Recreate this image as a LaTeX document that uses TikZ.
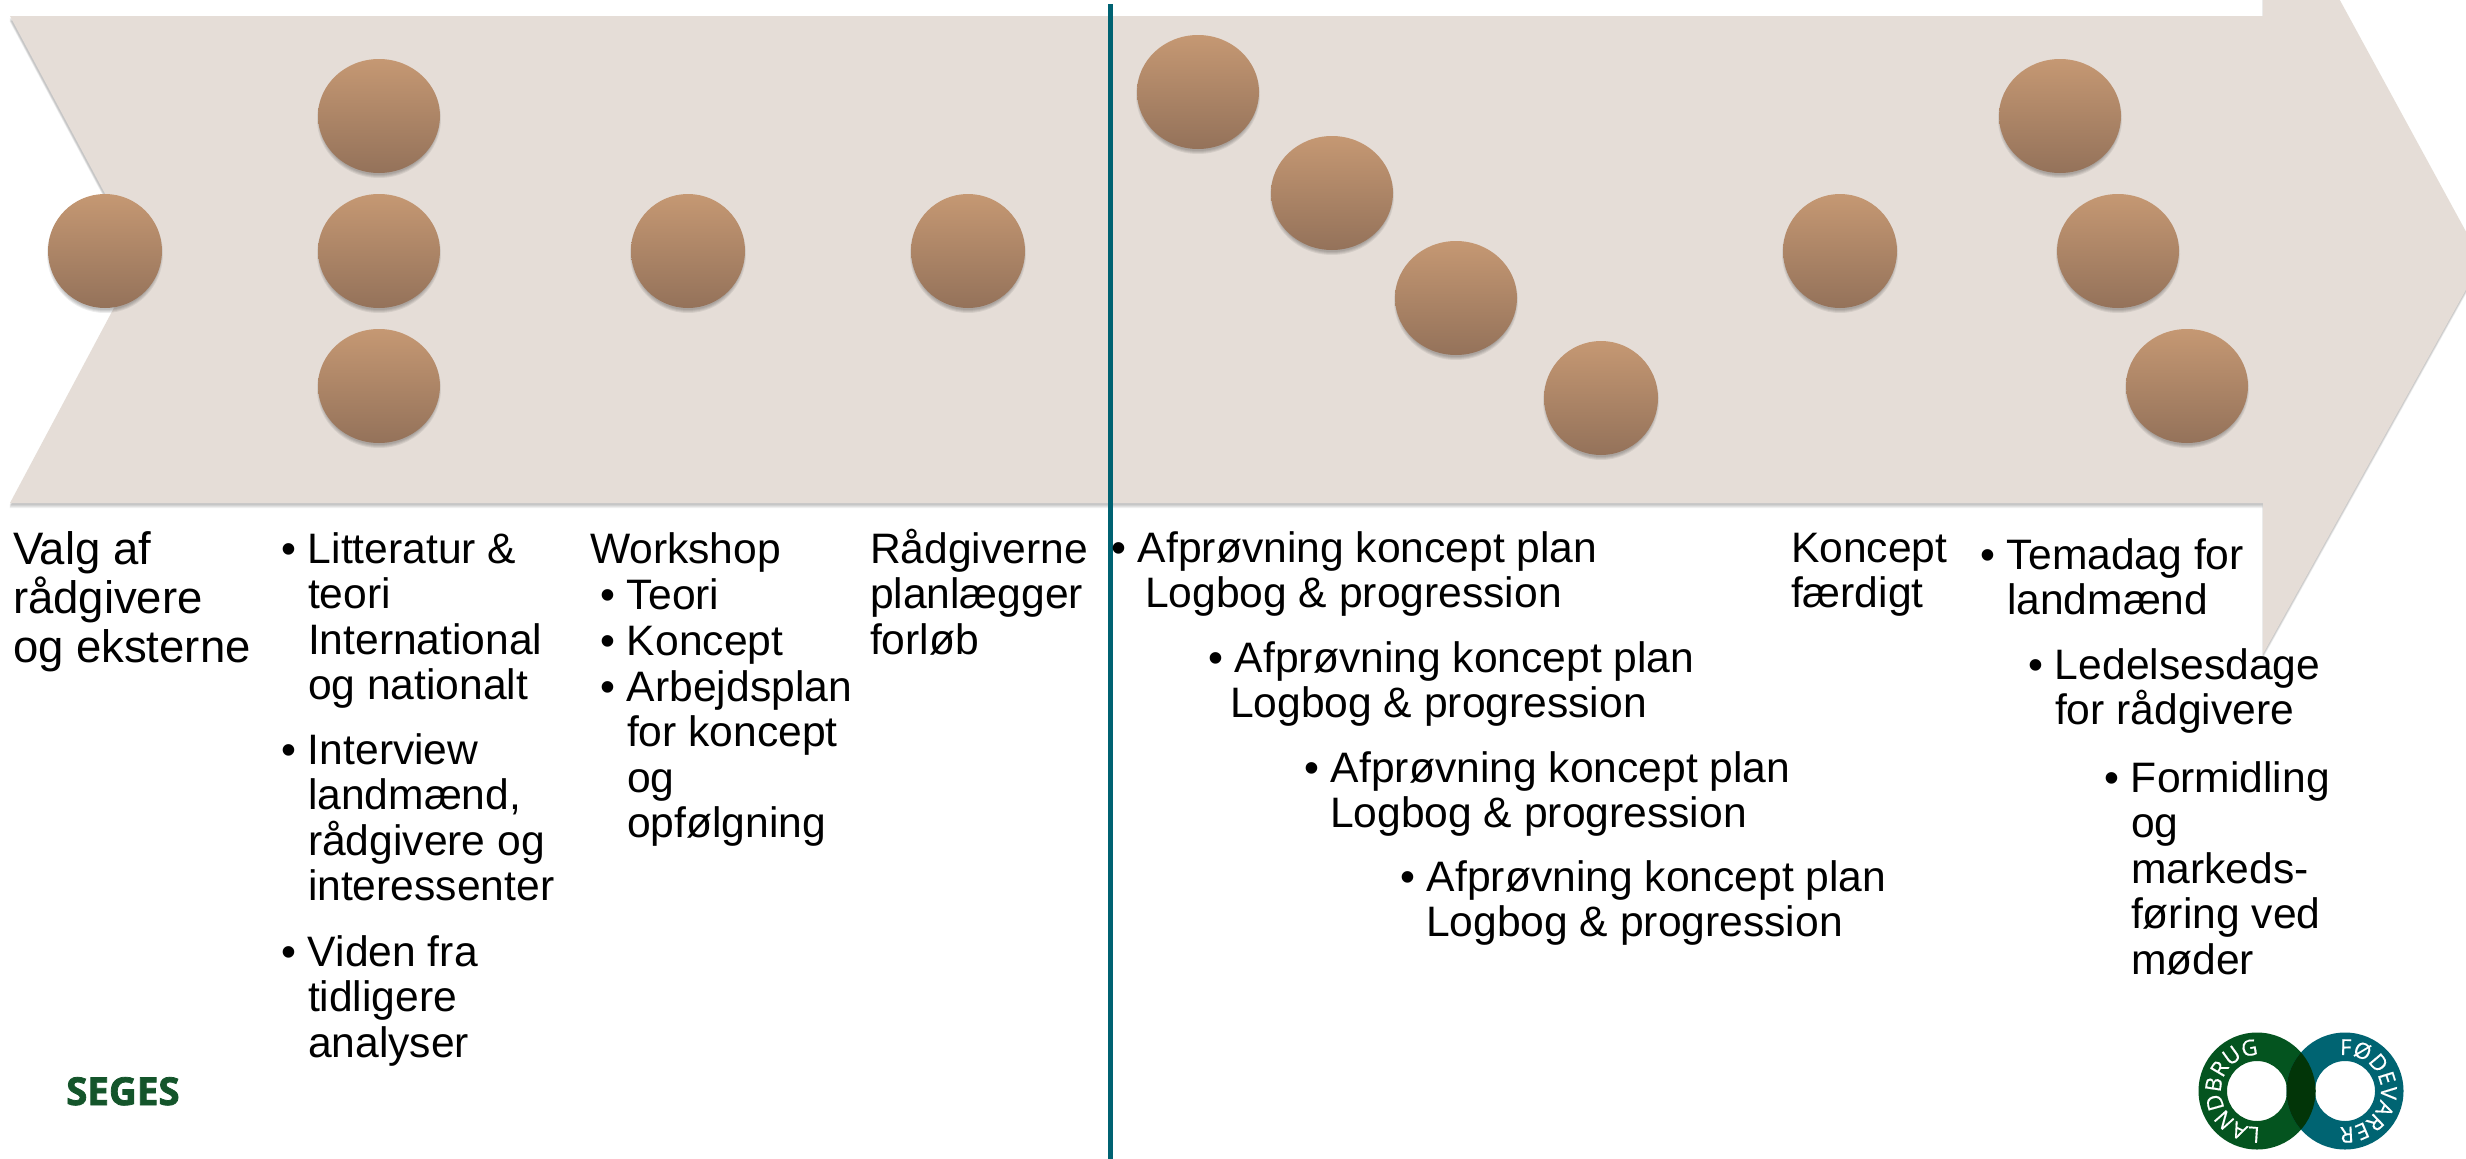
\documentclass[tikz,border=0pt]{standalone}
\usepackage{fontspec}
\setmainfont{Liberation Sans}
\newfontfamily\logofont[FakeBold=0.4]{Open Sans}
\newfontfamily\segesfont[BoldFeatures={FakeBold=2}]{Open Sans}
\usetikzlibrary{shapes.geometric,decorations.text}
\definecolor{arrowfill}{HTML}{E5DDD7}
\definecolor{ballt}{HTML}{C59873}
\definecolor{ballb}{HTML}{94725A}
\definecolor{tealline}{HTML}{006272}
\definecolor{lgreen}{HTML}{04541F}
\definecolor{lteal}{HTML}{006472}
\definecolor{ldark}{HTML}{023508}
\definecolor{segesgreen}{HTML}{14552B}
\tikzset{
  txt/.style={anchor=north west,inner sep=0pt,outer sep=0pt,align=left,text=black,font=\fontsize{42.6}{45.6}\selectfont},
  txtwide/.style={txt,font=\fontsize{45.5}{49}\selectfont},
  ball/.style={ellipse,inner sep=0pt,outer sep=0pt,top color=ballt,bottom color=ballb,draw=none},
  ringtxt/.style 2 args={decorate,decoration={text along path,text align={left},text={|\logofont\fontsize{22}{22}\selectfont\addfontfeature{LetterSpace=#1}\color{white}|#2}}}
}
\newcommand{\st}{\rule{0pt}{36pt}}
\newcommand{\bl}{\st\llap{•\hspace{12pt}}}
\newcommand{\ballat}[4]{%
  \foreach \k in {-1,0,1,2}{\fill[black,opacity=0.07] (#2,#3+3) ellipse [x radius=#4+\k-1,y radius=57+\k];}
  \node[ball,minimum width=2*#4 pt,minimum height=114pt] (#1) at (#2,#3) {};}
\newcommand{\arrowpath}{(10,16)--(2263,16)--(2263,-141)--(2482,261)--(2263,654)--(2263,503)--(10,503)--(140,259)--cycle}
\begin{document}
\begin{tikzpicture}[x=1pt,y=-1pt]
\useasboundingbox (0,0) rectangle (2466,1159);
\clip (0,0) rectangle (2466,1159);
\fill[white] (0,0) rectangle (2466,1159);
% arrow with soft edge
\foreach \k in {1,2,3,4}{\fill[black,opacity=0.06,shift={(-0.5,\k+1)}] \arrowpath;}
\fill[arrowfill] \arrowpath;
% balls
\ballat{a}{105}{251}{57}
\ballat{b}{379}{116}{61}
\ballat{c}{379}{251}{61}
\ballat{d}{379}{386}{61}
\ballat{e}{688}{251}{57}
\ballat{f}{968}{251}{57}
\ballat{g}{1198}{92}{61}
\ballat{h}{1332}{193}{61}
\ballat{i}{1456}{298}{61}
\ballat{j}{1601}{398}{57}
\ballat{m}{1840}{251}{57}
\ballat{n}{2060}{116}{61}
\ballat{o}{2118}{251}{61}
\ballat{p}{2187}{386}{61}
% divider
\coordinate (dtop) at (1110.5,4);
\coordinate (dbot) at (1110.5,1159);
\draw[tealline,line width=5.7pt] (dtop) -- (dbot);
% text
\node[txtwide] (t1) at (13,528) {\st Valg af\\rådgivere\\og eksterne};
\node[txt] (t2) at (308,527) {\bl Litteratur \&\\teori\\International\\og nationalt};
\node[txt] (t3) at (308,728) {\bl Interview\\landmænd,\\rådgivere og\\interessenter};
\node[txt] (t4) at (308,930) {\bl Viden fra\\tidligere\\analyser};
\node[txt] (t5) at (590,527) {\st Workshop};
\node[txt] (t6) at (627,573) {\bl Teori};
\node[txt] (t7) at (627,619) {\bl Koncept};
\node[txt] (t8) at (627,665) {\bl Arbejdsplan\\for koncept\\og\\opfølgning};
\node[txt] (t9) at (870,527) {\st Rådgiverne\\planlægger\\forløb};
\node[txt] (t10) at (1138,526) {\bl Afprøvning koncept plan\\\hspace*{7pt}Logbog \& progression};
\node[txt] (t11) at (1235,636) {\bl Afprøvning koncept plan\\\hspace*{-5pt}Logbog \& progression};
\node[txt] (t12) at (1331,746) {\bl Afprøvning koncept plan\\\hspace*{-1pt}Logbog \& progression};
\node[txt] (t13) at (1427,855) {\bl Afprøvning koncept plan\\\hspace*{-1pt}Logbog \& progression};
\node[txt] (t14) at (1791,526) {\st Koncept\\færdigt};
\node[txt] (t15) at (2007,533) {\bl Temadag for\\landmænd};
\node[txt] (t16) at (2055,643) {\bl Ledelsesdage\\for rådgivere};
\node[txt] (t17) at (2131,756) {\bl Formidling\\og\\markeds-\\føring ved\\møder};
% SEGES
\node[anchor=base west,inner sep=0pt,text=segesgreen,font=\segesfont\bfseries\fontsize{38.5}{39}\selectfont] (seges) at (66,1105) {SEGES};
% logo
\begin{scope}[shift={(2257,1091)},x=1pt,y=1pt]
  \fill[lgreen,even odd rule] (0,0) circle (58.5) (0,0) circle (30);
  \fill[lteal,even odd rule] (88,0) circle (58.5) (88,0) circle (30);
  \begin{scope}
    \clip (0,0) circle (58.5);
    \fill[ldark] (88,0) circle (58.5);
  \end{scope}
  \path[ringtxt={16}{LANDBRUG}] (275:36) arc[start angle=275,end angle=-30,radius=36];
  \path[ringtxt={5}{FØDEVARER}] ([shift={(88,0)}]98:36) arc[start angle=98,end angle=-200,radius=36];
\end{scope}
\end{tikzpicture}
\end{document}
